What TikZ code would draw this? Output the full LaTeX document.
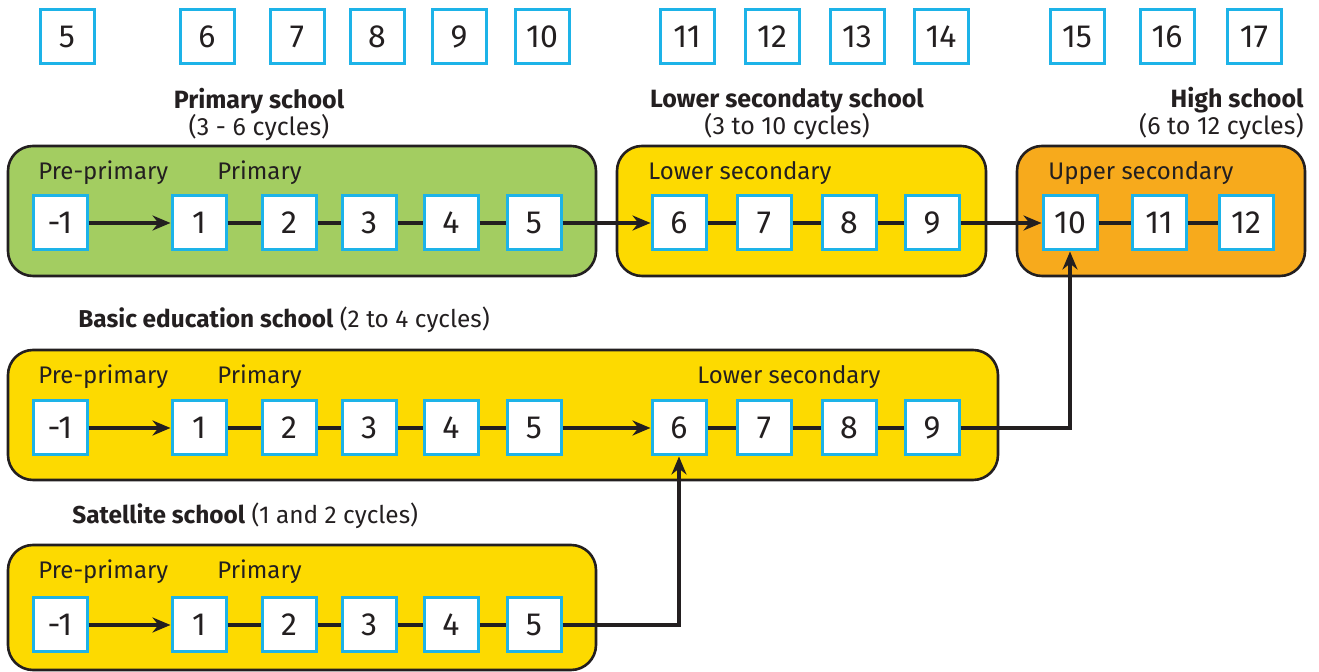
\documentclass[tikz,border=0pt]{standalone}
\usepackage{fontspec}
\setmainfont{Fira Sans}
\usetikzlibrary{positioning,arrows.meta}

\definecolor{agecyan}{HTML}{1DB3E8}
\definecolor{primgreen}{HTML}{A3CD61}
\definecolor{secyellow}{HTML}{FDDA00}
\definecolor{highorange}{HTML}{F7AA1C}
\definecolor{ink}{HTML}{231F20}

\tikzset{
  grade/.style={draw=agecyan,line width=1.5pt,fill=white,minimum size=27pt,
    inner sep=0pt,text=ink,font=\fontsize{16}{16}\selectfont},
  stage/.style={draw=ink,line width=1.3pt,rounded corners=12.5pt},
  lbl/.style={anchor=base west,inner sep=0pt,text=ink,font=\fontsize{12}{12}\selectfont},
  head/.style={anchor=base,inner sep=0pt,text=ink,font=\fontsize{12.5}{12.5}\selectfont},
  link/.style={draw=ink,line width=1.6pt},
  flow/.style={link,-{Stealth[length=9pt,width=7.5pt]}},
}

\begin{document}
\begin{tikzpicture}[x=0.5pt,y=-0.5pt]
  \useasboundingbox (0,0) rectangle (1319,672);

  % ages
  \foreach \a/\x in {5/67,6/207,7/297,8/377,9/459,10/542,11/687,12/772,
      13/857,14/941,15/1077,16/1167,17/1254}
    \node[grade] (age\a) at (\x,37) {\a};

  % schools
  \draw[stage,fill=primgreen] (8,146) rectangle (596,276);
  \draw[stage,fill=secyellow] (617,146) rectangle (986,276);
  \draw[stage,fill=highorange] (1017,146) rectangle (1305,276);
  \draw[stage,fill=secyellow] (8,350) rectangle (998,480);
  \draw[stage,fill=secyellow] (8,545) rectangle (596,670);

  % headings
  \node[head] (hprim) at (259,109) {\textbf{Primary school}};
  \node[head] (hprimc) at (259,136) {(3 - 6 cycles)};
  \node[head] (hlow) at (787,108) {\textbf{Lower secondaty school}};
  \node[head] (hlowc) at (787,135) {(3 to 10 cycles)};
  \node[head,anchor=base east] (hhigh) at (1304,108) {\textbf{High school}};
  \node[head,anchor=base east] (hhighc) at (1304,135) {(6 to 12 cycles)};
  \node[lbl,font=\fontsize{12.2}{12.2}\selectfont] (hbasic) at (78,328)
    {\textbf{Basic education school} (2 to 4 cycles)};
  \node[lbl,font=\fontsize{12.2}{12.2}\selectfont] (hsat) at (72,524)
    {\textbf{Satellite school} (1 and 2 cycles)};

  % stage labels
  \foreach \r/\y in {1/180,2/384,3/579} {
    \node[lbl] (pp\r) at (38,\y) {Pre-primary};
    \node[lbl] (pr\r) at (217,\y) {Primary};
  }
  \node[lbl] (ls1) at (648,180) {Lower secondary};
  \node[lbl] (us1) at (1048,180) {Upper secondary};
  \node[lbl] (ls2) at (697,384) {Lower secondary};

  % grades
  \foreach \r/\y in {1/223,2/428,3/625}
    \node[grade] (r\r pre) at (60,\y) {-1};
  \foreach \g/\x in {1/199,2/289,3/369,4/451,5/534} {
    \node[grade] (r1g\g) at (\x,223) {\g};
    \node[grade] (r2g\g) at (\x,428) {\g};
    \node[grade] (r3g\g) at (\x,625) {\g};
  }
  \foreach \g/\x in {6/679,7/764,8/849,9/932} {
    \node[grade] (r1g\g) at (\x,223) {\g};
    \node[grade] (r2g\g) at (\x,428) {\g};
  }
  \foreach \g/\x in {10/1070,11/1159,12/1246}
    \node[grade] (r1g\g) at (\x,223) {\g};

  % progression
  \draw[flow] (r1pre) -- (r1g1);
  \draw[link] (r1g1) -- (r1g2) -- (r1g3) -- (r1g4) -- (r1g5);
  \draw[flow] (r1g5) -- (r1g6);
  \draw[link] (r1g6) -- (r1g7) -- (r1g8) -- (r1g9);
  \draw[flow] (r1g9) -- (r1g10);
  \draw[link] (r1g10) -- (r1g11) -- (r1g12);

  \draw[flow] (r2pre) -- (r2g1);
  \draw[link] (r2g1) -- (r2g2) -- (r2g3) -- (r2g4) -- (r2g5);
  \draw[flow] (r2g5) -- (r2g6);
  \draw[link] (r2g6) -- (r2g7) -- (r2g8) -- (r2g9);
  \draw[flow] (r2g9.east) -| (r1g10.south);

  \draw[flow] (r3pre) -- (r3g1);
  \draw[link] (r3g1) -- (r3g2) -- (r3g3) -- (r3g4) -- (r3g5);
  \draw[flow] (r3g5.east) -| (r2g6.south);
\end{tikzpicture}
\end{document}
